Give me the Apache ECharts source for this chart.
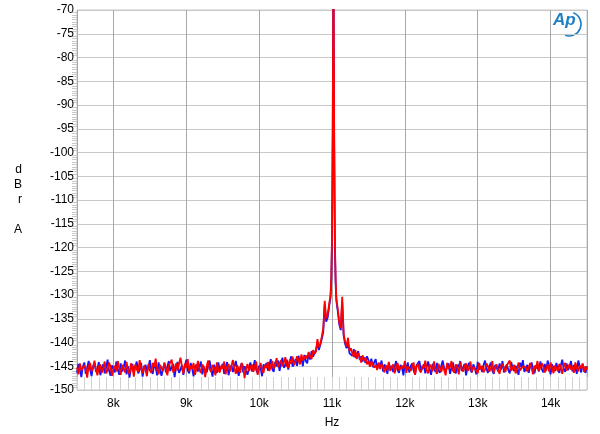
<!DOCTYPE html>
<html>
<head>
<meta charset="utf-8">
<script src="https://cdn.jsdelivr.net/npm/echarts@6/dist/echarts.min.js"></script>
<style>html,body{margin:0;padding:0;background:#fff}#c{width:600px;height:434px}</style>
</head>
<body>
<div id="c"></div>
<script>
// Frequency grids (Hz)
const leftStart = 7500, rightStart = 11260, floorStep = 20;
const peakFreqs = [10800,10820,10840,10860,10880,10900,10920,10940,10960,10980,10990,11000,11010,11020,11030,11040,11050,11060,11080,11100,11120,11140,11160,11180,11200,11220,11240];

// Blue channel (dBrA)
const blueLeft = [
-146.4,-144.5,-145.8,-147.3,-145.1,-144.2,-146.6,-145.3,-143.9,-145.7,
-147.1,-145.0,-144.3,-146.2,-145.6,-144.1,-146.9,-145.4,-144.6,-146.5,
-145.2,-143.6,-145.9,-147.0,-144.8,-145.5,-146.3,-144.0,-145.7,-146.8,
-144.4,-146.1,-145.3,-143.8,-146.7,-145.0,-147.4,-145.6,-144.5,-146.2,
-145.1,-144.0,-146.5,-145.8,-144.3,-147.2,-145.4,-144.7,-146.0,-145.2,
-143.7,-145.9,-146.6,-144.6,-145.3,-146.9,-144.2,-145.8,-147.0,-145.5,
-144.4,-146.3,-145.1,-143.9,-146.0,-145.6,-144.5,-147.3,-145.2,-144.1,
-146.4,-145.7,-144.8,-146.8,-145.0,-143.6,-145.9,-146.5,-144.3,-145.4,
-147.1,-145.3,-144.6,-146.1,-145.8,-144.0,-146.7,-145.2,-144.9,-146.3,
-145.0,-143.8,-145.6,-147.2,-144.7,-145.5,-146.4,-144.2,-145.9,-146.0,
-144.5,-146.6,-145.3,-144.1,-146.9,-145.4,-144.8,-146.2,-145.1,-143.9,
-145.7,-147.0,-145.2,-144.4,-146.3,-145.0,-144.6,-146.8,-145.5,-144.2,
-146.1,-145.3,-143.7,-145.8,-146.5,-144.9,-145.4,-147.1,-144.6,-145.2,
-144.3,-145.9,-144.7,-143.5,-145.6,-146.2,-144.1,-145.0,-143.8,-146.0,
-144.5,-143.2,-145.3,-144.8,-143.6,-145.7,-144.0,-142.9,-145.1,-144.4,
-143.5,-144.9,-142.8,-144.1,-143.3,-145.0,-142.6,-143.9,-144.4,-142.2,
-143.6,-141.8,-143.0,-142.3,-141.5];
const bluePeak = [-140.2,-141.6,-140.5,-139.2,-137.8,-132.0,-135.6,-134.8,-132.5,-130.5,-127,-119,-96,-55,-98,-120,-127.5,-131.2,-133.5,-136.2,-137.4,-131.5,-138.6,-140.3,-141.2,-140.0,-142.3];
const blueRight = [
-141.9,-142.8,-141.4,-143.2,-142.5,-141.8,-143.6,-142.9,-144.0,-143.1,
-144.3,-142.9,-143.7,-144.8,-143.4,-145.2,-144.1,-143.5,-145.6,-144.4,
-145.0,-143.8,-146.1,-144.6,-145.4,-146.6,-144.3,-145.7,-144.9,-146.2,
-145.1,-143.9,-145.8,-146.4,-144.7,-145.3,-146.9,-144.5,-145.6,-144.2,
-146.3,-145.0,-144.4,-145.9,-146.7,-144.8,-145.2,-143.9,-146.0,-145.5,
-144.6,-146.5,-145.1,-144.0,-145.7,-146.8,-144.5,-145.4,-146.2,-144.3,
-145.8,-146.4,-144.9,-143.8,-145.5,-146.1,-145.0,-144.4,-146.6,-145.3,
-144.2,-145.9,-146.5,-144.7,-145.2,-143.9,-146.0,-145.6,-144.5,-146.9,
-145.1,-144.3,-145.8,-146.3,-144.6,-145.4,-146.7,-144.1,-145.7,-145.0,
-146.2,-144.8,-143.8,-145.5,-146.4,-145.0,-144.2,-145.9,-146.6,-144.7,
-145.3,-146.1,-144.4,-145.7,-143.9,-146.3,-145.2,-144.6,-145.8,-146.5,
-144.1,-145.4,-146.0,-144.9,-145.6,-146.8,-144.3,-145.1,-143.7,-146.2,
-145.5,-144.7,-146.4,-145.0,-144.2,-145.8,-146.5,-144.8,-145.3,-146.1,
-144.0,-145.6,-146.3,-144.5,-145.9,-143.8,-145.2,-146.7,-144.6,-145.4,
-146.0,-144.3,-145.7,-146.4,-144.9,-143.6,-145.5,-146.2,-144.4,-145.8,
-145.1,-143.9,-146.1,-144.7,-145.4,-146.6,-143.8,-145.0,-146.3,-144.5,
-145.7,-146.4,-145.0];

// Red channel (dBrA)
const redLeft = [
-145.3,-146.7,-144.4,-145.9,-146.3,-144.8,-145.5,-147.4,-145.0,-144.3,
-146.0,-145.4,-143.8,-145.7,-146.9,-145.1,-144.6,-146.4,-145.3,-144.0,
-146.5,-145.8,-144.2,-145.0,-147.0,-145.6,-144.9,-146.1,-143.9,-145.4,
-146.8,-144.7,-145.5,-146.3,-144.1,-145.9,-146.6,-144.4,-145.2,-147.2,
-144.6,-145.7,-146.2,-143.7,-145.3,-146.5,-144.9,-145.8,-147.1,-144.5,
-145.9,-146.4,-144.3,-145.1,-143.4,-145.8,-146.7,-144.7,-145.4,-146.0,
-144.2,-145.5,-146.9,-144.8,-145.2,-143.6,-146.3,-145.7,-144.4,-145.9,
-146.2,-143.2,-145.0,-146.6,-144.5,-145.3,-143.5,-146.1,-144.9,-145.6,
-144.3,-146.8,-145.4,-143.9,-145.7,-146.4,-144.6,-145.1,-147.3,-145.0,
-143.8,-145.6,-146.2,-144.7,-145.3,-146.9,-144.2,-145.8,-146.3,-144.9,
-145.5,-144.0,-146.7,-145.2,-144.5,-146.1,-145.7,-143.7,-145.4,-146.6,
-144.8,-145.9,-146.4,-144.3,-145.0,-147.5,-145.6,-144.5,-146.0,-145.3,
-144.6,-146.2,-145.1,-144.0,-146.8,-145.5,-144.3,-145.9,-146.4,-144.8,
-145.3,-144.1,-146.0,-145.0,-143.9,-145.5,-144.6,-143.3,-145.2,-144.4,
-143.7,-145.0,-144.2,-143.1,-144.9,-145.4,-143.6,-144.5,-143.0,-144.8,
-144.0,-142.9,-143.7,-144.6,-142.5,-143.8,-144.2,-142.7,-143.4,-142.0,
-142.9,-143.5,-141.6,-142.4,-141.9];
const redPeak = [-139.3,-141.0,-140.2,-138.8,-137.0,-131.2,-135.0,-134.2,-132.0,-130.0,-126.5,-118,-95,-55,-97,-119,-127,-130.8,-133.0,-135.8,-137.0,-130.4,-138.2,-139.8,-140.8,-139.0,-141.8];
const redRight = [
-141.2,-142.4,-143.0,-141.6,-143.5,-142.2,-143.1,-144.2,-142.7,-143.8,
-143.2,-144.6,-143.9,-145.1,-144.0,-143.6,-145.3,-144.7,-145.8,-144.2,
-145.6,-144.5,-145.2,-146.3,-144.8,-145.9,-144.1,-146.0,-145.3,-144.6,
-146.5,-145.2,-144.3,-145.9,-146.2,-144.9,-145.5,-143.9,-146.4,-145.0,
-144.7,-146.0,-145.6,-144.2,-146.8,-145.1,-144.5,-145.8,-146.3,-144.9,
-145.4,-143.8,-145.9,-146.5,-144.6,-145.2,-146.1,-144.0,-145.7,-146.6,
-144.5,-145.3,-146.2,-144.8,-145.0,-146.9,-144.3,-145.6,-145.1,-143.9,
-145.9,-146.4,-144.6,-145.3,-146.7,-144.1,-145.5,-146.1,-145.0,-144.4,
-146.0,-145.4,-144.0,-146.2,-145.1,-144.7,-145.9,-146.5,-144.3,-145.6,
-144.9,-146.3,-145.7,-144.4,-145.0,-146.1,-145.5,-143.9,-146.4,-145.2,
-144.6,-145.8,-146.6,-145.0,-144.5,-145.4,-146.2,-144.8,-145.1,-143.8,
-146.0,-145.3,-144.7,-146.5,-145.6,-144.2,-145.9,-146.3,-145.0,-144.6,
-145.2,-146.1,-145.8,-144.3,-145.4,-146.7,-144.9,-145.5,-143.9,-146.0,
-145.6,-144.4,-145.0,-146.3,-145.7,-144.6,-146.1,-144.2,-145.3,-146.5,
-144.8,-145.5,-146.0,-144.5,-145.2,-146.6,-145.1,-144.3,-145.9,-146.2,
-144.6,-145.7,-145.0,-146.4,-144.2,-145.3,-146.1,-144.8,-145.5,-144.4,
-146.2,-145.0,-145.8];

// Axis labels
const xTickLabels = {8000:'8k',9000:'9k',10000:'10k',11000:'11k',12000:'12k',13000:'13k',14000:'14k'};

function build(left, peak, right) {
  const out = [];
  left.forEach((v, i) => out.push([leftStart + i * floorStep, v]));
  peak.forEach((v, i) => out.push([peakFreqs[i], v]));
  right.forEach((v, i) => out.push([rightStart + i * floorStep, v]));
  return out;
}

const FONT = 'Liberation Sans, Arial, sans-serif';
const chart = echarts.init(document.getElementById('c'), null, {renderer: 'canvas'});
chart.setOption({
  animation: false,
  backgroundColor: '#fff',
  grid: {left: 77, right: 13, top: 10, bottom: 44, show: true, borderColor: '#c8c8c8', borderWidth: 1},
  xAxis: [{
    type: 'value', min: 7500, max: 14500, splitNumber: 7,
    name: 'Hz', nameLocation: 'middle', nameGap: 27,
    nameTextStyle: {color: '#000', fontFamily: FONT, fontSize: 12},
    axisLine: {show: false}, axisTick: {show: false},
    axisLabel: {color: '#000', fontFamily: FONT, fontSize: 12, margin: 8, showMinLabel: false, showMaxLabel: false,
      formatter: v => xTickLabels[Math.round(v)] || ''},
    splitLine: {show: true, lineStyle: {color: '#a8a8a8', width: 1}}
  }, {
    type: 'value', min: 7500, max: 14500, interval: 100, position: 'bottom',
    axisLine: {show: false}, axisLabel: {show: false}, splitLine: {show: false},
    axisTick: {show: true, inside: true, length: 13, lineStyle: {color: '#d0d0d0', width: 1}}
  }],
  yAxis: {
    type: 'value', min: -150, max: -70, interval: 5,
    name: 'd\nB\nr\n\nA', nameLocation: 'middle', nameRotate: 0, nameGap: 55,
    nameTextStyle: {color: '#000', fontFamily: FONT, fontSize: 12, lineHeight: 15},
    axisLine: {show: false}, axisTick: {show: false},
    minorTick: {show: true, splitNumber: 10, length: 5, lineStyle: {color: '#c8c8c8', width: 1}},
    axisLabel: {color: '#000', fontFamily: FONT, fontSize: 12, margin: 3},
    splitLine: {show: true, lineStyle: {color: '#c8c8c8', width: 1}}
  },
  graphic: [
    {type: 'text', left: 553, top: 12, style: {text: 'Ap', font: 'italic bold 17px ' + FONT, fill: '#1f7fc4'}},
    {type: 'arc', shape: {cx: 569, cy: 24, r: 12, startAngle: -1.2, endAngle: 1.9}, style: {stroke: '#1f7fc4', lineWidth: 1.6, fill: null}}
  ],
  series: [
    {type: 'line', data: build(blueLeft, bluePeak, blueRight), showSymbol: false, symbol: 'none', clip: true,
      lineStyle: {color: '#1414ff', width: 1.8}, z: 2},
    {type: 'line', data: build(redLeft, redPeak, redRight), showSymbol: false, symbol: 'none', clip: true,
      lineStyle: {color: '#ff0000', width: 1.8}, z: 3}
  ]
});
</script>
</body>
</html>
